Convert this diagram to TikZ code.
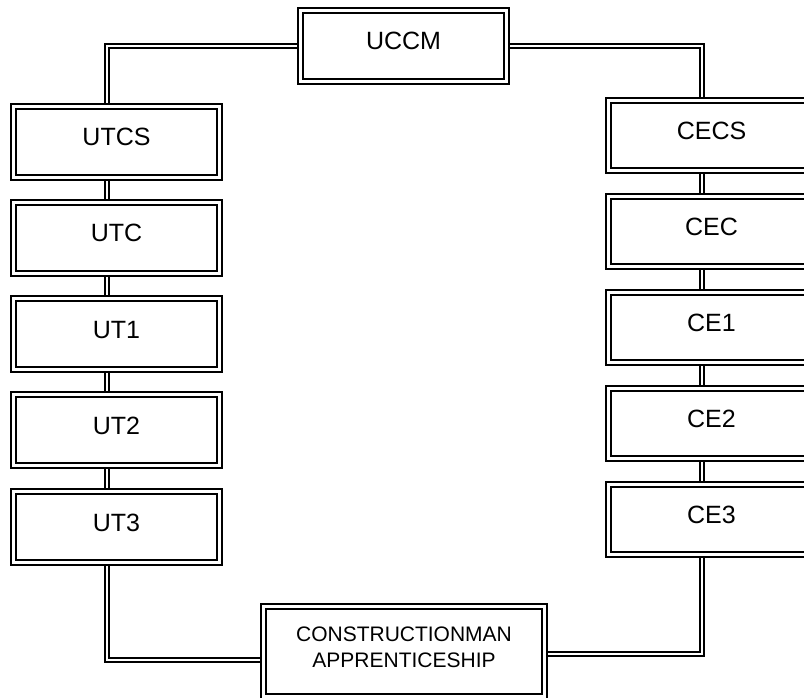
\documentclass[tikz,border=0pt]{standalone}
\usepackage{fontspec}
\setmainfont{Liberation Sans}
\usetikzlibrary{backgrounds}
\begin{document}
\begin{tikzpicture}[x=1pt,y=-1pt,
  box/.style={draw=black, double=white, line width=2.4pt, double distance=2.6pt,
    fill=white, outer sep=0pt, inner sep=0pt, minimum width=205.5pt, minimum height=70.5pt,
    font=\fontsize{25}{30}\selectfont, text height=20pt, text depth=12pt},
  rbox/.style={box, minimum height=69.5pt},
  conn/.style={draw=black, double=white, line width=2pt, double distance=2.6pt}]
\useasboundingbox (0,0) rectangle (804,698);
\node[box] (UCCM) at (403.5,46) {UCCM};
\node[box] (UTCS) at (116.5,142) {UTCS};
\node[box] (UTC) at (116.5,238) {UTC};
\node[box] (UT1) at (116.5,334) {UT1};
\node[box] (UT2) at (116.5,430) {UT2};
\node[box] (UT3) at (116.5,527) {UT3};
\node[rbox] (CECS) at (711.5,135.5) {CECS};
\node[rbox] (CEC) at (711.5,231.5) {CEC};
\node[rbox] (CE1) at (711.5,327.5) {CE1};
\node[rbox] (CE2) at (711.5,423.5) {CE2};
\node[rbox] (CE3) at (711.5,519.5) {CE3};
\node[box, minimum width=280.5pt, minimum height=89.5pt, align=center,
  font=\fontsize{21}{26}\selectfont, text height=45pt, text depth=14pt]
  (CON) at (404,651.5) {CONSTRUCTIONMAN\\APPRENTICESHIP};
\begin{scope}[on background layer]
\draw[conn] (UCCM.west) -| ([xshift=-9.5pt]UTCS.north);
\draw[conn] (UCCM.east) -| ([xshift=-9.5pt]CECS.north);
\draw[conn] ([xshift=-9.5pt]UTCS.south) -- ([xshift=-9.5pt]UTC.north);
\draw[conn] ([xshift=-9.5pt]UTC.south) -- ([xshift=-9.5pt]UT1.north);
\draw[conn] ([xshift=-9.5pt]UT1.south) -- ([xshift=-9.5pt]UT2.north);
\draw[conn] ([xshift=-9.5pt]UT2.south) -- ([xshift=-9.5pt]UT3.north);
\draw[conn] ([xshift=-9.5pt]CECS.south) -- ([xshift=-9.5pt]CEC.north);
\draw[conn] ([xshift=-9.5pt]CEC.south) -- ([xshift=-9.5pt]CE1.north);
\draw[conn] ([xshift=-9.5pt]CE1.south) -- ([xshift=-9.5pt]CE2.north);
\draw[conn] ([xshift=-9.5pt]CE2.south) -- ([xshift=-9.5pt]CE3.north);
\draw[conn] ([xshift=-9.5pt]UT3.south) |- ([yshift=-8.5pt]CON.west);
\draw[conn] ([xshift=-9.5pt]CE3.south) |- ([yshift=-2.5pt]CON.east);
\end{scope}
\end{tikzpicture}
\end{document}
